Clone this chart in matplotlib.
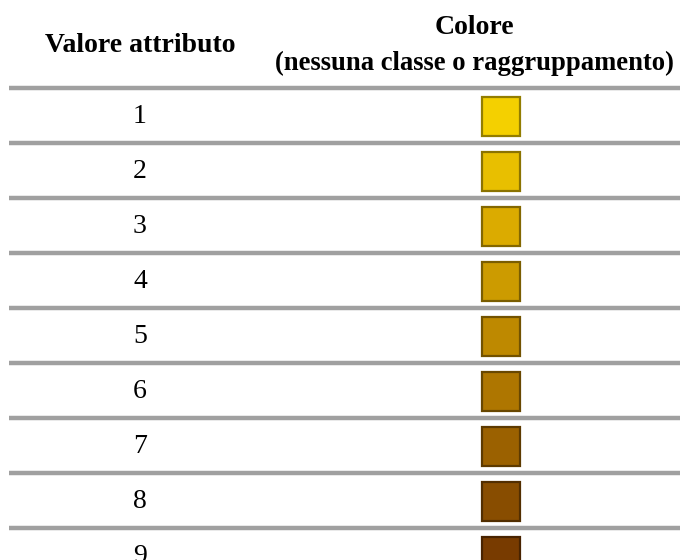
import matplotlib
matplotlib.use("Agg")
import matplotlib.pyplot as plt
from matplotlib.patches import Rectangle
from matplotlib.colors import to_rgb

values = ["1", "2", "3", "4", "5", "6", "7", "8", "9"]
colors = ["#f4d000", "#e8bf00", "#dbab00", "#cc9b00", "#be8900",
          "#ae7600", "#9b6100", "#884d00", "#783b00"]
header_left = "Valore attributo"
header_right = ["Colore", "(nessuna classe o raggruppamento)"]

W, H = 680, 560
fig = plt.figure(figsize=(W / 100, H / 100), dpi=100)
ax = fig.add_axes([0, 0, 1, 1])
ax.set_xlim(0, W)
ax.set_ylim(H, 0)
ax.axis("off")

font = "Liberation Serif"
ax.text(140, 46, header_left, ha="center", va="center", fontsize=20,
        fontweight="bold", family=font)
ax.text(474, 28, header_right[0], ha="center", va="center", fontsize=20,
        fontweight="bold", family=font)
ax.text(474, 63, header_right[1], ha="center", va="center",
        fontsize=19.2, fontweight="bold", family=font)

row_h = 55
first_line = 88
ax.plot([9, 680], [first_line, first_line], color="#a0a0a0", lw=3.2,
        solid_capstyle="butt")
for i, (v, c) in enumerate(zip(values, colors)):
    yc = first_line + row_h * i + row_h / 2
    ax.text(140, yc + 1, v, ha="center", va="center", fontsize=20,
            family=font)
    r, g, b = to_rgb(c)
    edge = (r * 0.6, g * 0.6, b * 0.6)
    ax.add_patch(Rectangle((482, yc - 19), 38, 39, facecolor=c,
                           edgecolor=edge, lw=1.6))
    yl = first_line + row_h * (i + 1)
    ax.plot([9, 680], [yl, yl], color="#a0a0a0", lw=3.2,
            solid_capstyle="butt")

fig.savefig("out.png", dpi=100)
